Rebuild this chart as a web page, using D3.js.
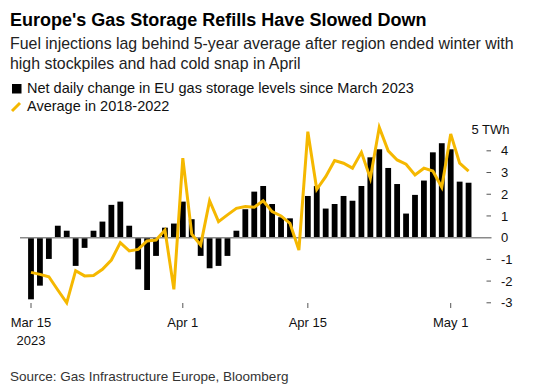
<!DOCTYPE html>
<html>
<head>
<meta charset="utf-8">
<script src="https://cdn.jsdelivr.net/npm/d3@7"></script>
<style>
  body { margin: 0; background: #fff; }
  svg { font-family: "Liberation Sans", Arial, sans-serif; }
  .title { font-size: 18px; font-weight: bold; fill: #000; }
  .sub { font-size: 15.9px; fill: #222; }
  .legend { font-size: 14.5px; fill: #111; }
  .tick-label { font-size: 13px; fill: #111; }
  .source { font-size: 13.5px; fill: #333; }
</style>
</head>
<body>
<div id="chart"></div>
<script>
// Daily dates: Mar 15 .. May 3, 2023
const firstDay = new Date(2023, 2, 15);
const lastDay = new Date(2023, 4, 3);

// Net daily change in EU gas storage (TWh), one per day
const netChange = [
  -2.84, -2.21, -0.98, 0.55, 0.32, -1.30, -0.47, 0.32, 0.74, 1.51,
  1.66, 0.55, -1.46, -2.41, -0.84, 0.46, 0.65, 1.66, 0.85, -0.84,
  -1.41, -1.30, -0.84, 0.32, 1.31, 2.12, 2.38, 1.55, 0.94, 0.89,
  null, 1.92, 2.38, 1.34, 1.55, 1.92, 1.70, 2.38, 3.70, 4.07,
  3.21, 2.47, 1.11, 1.97, 2.63, 3.93, 4.35, 4.07, 2.58, 2.53
];

// Average in 2018-2022 (TWh)
const avg5y = [
  -1.60, -1.69, -1.80, -2.41, -3.00, -1.52, -1.76, -1.74, -1.46, -1.03,
  -0.23, -0.61, -0.54, -0.15, -0.11, 0.35, -2.38, 3.66, 0.16, -0.34,
  1.70, 0.74, 1.05, 1.35, 1.43, 1.40, 1.70, 1.20, 1.00, 0.66,
  -0.57, 4.88, 2.23, 2.81, 3.55, 3.43, 3.20, 3.93, 2.74, 5.08,
  4.00, 3.58, 3.38, 2.89, 3.20, 3.07, 2.32, 4.78, 3.43, 3.07
];

const yTicks = [-3, -2, -1, 0, 1, 2, 3, 4, 5];
const xTicks = [new Date(2023, 2, 15), new Date(2023, 3, 1), new Date(2023, 3, 15), new Date(2023, 4, 1)];

const days = d3.timeDay.range(firstDay, d3.timeDay.offset(lastDay, 1));
const rows = days.map((d, i) => ({ date: d, net: netChange[i], avg: avg5y[i] }));

const width = 536, height = 391;
const yellow = '#f5b800';

const svg = d3.select('#chart').append('svg')
  .attr('width', width)
  .attr('height', height);

// Titles
svg.append('text').attr('class', 'title').attr('x', 10).attr('y', 26)
  .text("Europe's Gas Storage Refills Have Slowed Down");
svg.append('text').attr('class', 'sub').attr('x', 10).attr('y', 48.5)
  .text('Fuel injections lag behind 5-year average after region ended winter with');
svg.append('text').attr('class', 'sub').attr('x', 10).attr('y', 69)
  .text('high stockpiles and had cold snap in April');

// Legend
svg.append('rect').attr('x', 12).attr('y', 84).attr('width', 9.5).attr('height', 9.5).attr('fill', '#000');
svg.append('text').attr('class', 'legend').attr('x', 27).attr('y', 93)
  .text('Net daily change in EU gas storage levels since March 2023');
svg.append('line').attr('x1', 12).attr('y1', 111).attr('x2', 20).attr('y2', 103)
  .attr('stroke', yellow).attr('stroke-width', 3);
svg.append('text').attr('class', 'legend').attr('x', 27).attr('y', 111)
  .text('Average in 2018-2022');

// Scales
const x = d3.scaleTime()
  .domain([firstDay, lastDay])
  .range([31, 31 + 49 * 8.93]);
const y = d3.scaleLinear()
  .domain([-3, 5])
  .range([302.8, 129.1]);

const barW = 5.8;

// Bars
svg.append('g')
  .selectAll('rect')
  .data(rows.filter(d => d.net != null))
  .join('rect')
  .attr('x', d => x(d.date) - barW / 2)
  .attr('width', barW)
  .attr('y', d => y(Math.max(0, d.net)))
  .attr('height', d => Math.abs(y(d.net) - y(0)))
  .attr('fill', '#000');

// Zero line
svg.append('line')
  .attr('x1', 20).attr('x2', 491.5)
  .attr('y1', y(0)).attr('y2', y(0))
  .attr('stroke', '#8a8a8a').attr('stroke-width', 1.5);

// Average line
const line = d3.line()
  .x(d => x(d.date))
  .y(d => y(d.avg));
svg.append('path')
  .datum(rows)
  .attr('d', line)
  .attr('fill', 'none')
  .attr('stroke', yellow)
  .attr('stroke-width', 3)
  .attr('stroke-linejoin', 'miter');

// Y axis (right)
const yAxis = svg.append('g');
yAxis.selectAll('line')
  .data(yTicks.filter(t => t !== 5 && t !== 0))
  .join('line')
  .attr('x1', 486.5).attr('x2', 491)
  .attr('y1', d => y(d)).attr('y2', d => y(d))
  .attr('stroke', '#555').attr('stroke-width', 1);
yAxis.selectAll('text')
  .data(yTicks)
  .join('text')
  .attr('class', 'tick-label')
  .attr('x', d => d === 5 ? 471.5 : 501)
  .attr('y', d => y(d))
  .attr('dy', '0.35em')
  .text(d => d === 5 ? '5 TWh' : d);

// X axis
const xAxis = svg.append('g');
xAxis.selectAll('line')
  .data(xTicks)
  .join('line')
  .attr('x1', d => x(d)).attr('x2', d => x(d))
  .attr('y1', 303).attr('y2', 308)
  .attr('stroke', '#555').attr('stroke-width', 1);
xAxis.selectAll('text')
  .data(xTicks)
  .join('text')
  .attr('class', 'tick-label')
  .attr('x', d => x(d))
  .attr('y', 327)
  .attr('text-anchor', 'middle')
  .text(d3.timeFormat('%b %-d'));
xAxis.append('text')
  .attr('class', 'tick-label')
  .attr('x', x(xTicks[0]))
  .attr('y', 345)
  .attr('text-anchor', 'middle')
  .text('2023');

// Source
svg.append('text').attr('class', 'source').attr('x', 10).attr('y', 381)
  .text('Source: Gas Infrastructure Europe, Bloomberg');
</script>
</body>
</html>
